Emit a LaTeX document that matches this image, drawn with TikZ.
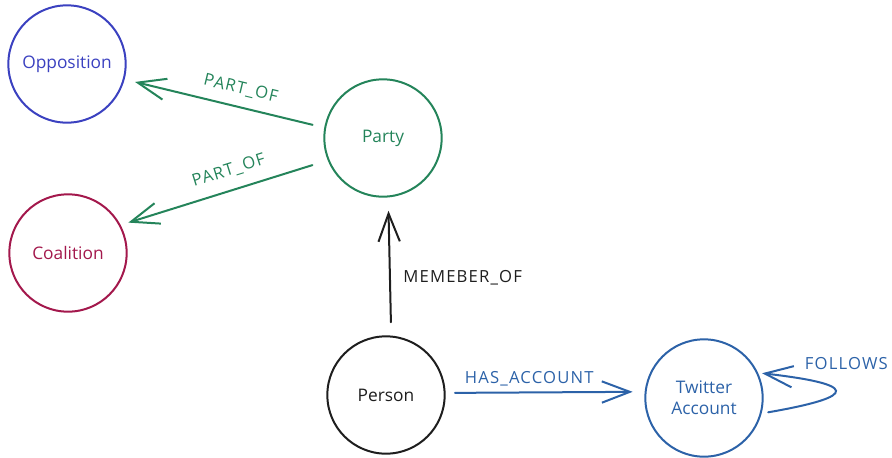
\documentclass[tikz,border=0pt]{standalone}
\usepackage{fontspec}
\setmainfont{Open Sans}
\newfontfamily\relfont[LetterSpace=7]{Open Sans}
\usetikzlibrary{arrows.meta}

\definecolor{oppblue}{HTML}{3B41C0}
\definecolor{coalred}{HTML}{A3184C}
\definecolor{partygreen}{HTML}{24845A}
\definecolor{twitblue}{HTML}{2C62A8}
\definecolor{inkblack}{HTML}{1E1E1E}

\begin{document}
\begin{tikzpicture}[x=0.75pt,y=-0.75pt,line width=1.5pt,cap=round,
    >={Straight Barb[length=21pt,width=16pt]},
    entity/.style={circle,draw,minimum size=88pt,inner sep=0pt,align=center,
        font=\fontsize{13}{16}\selectfont},
    rel/.style={->,font=\relfont\fontsize{12.5}{15}\selectfont}]
    \useasboundingbox (0,0) rectangle (892,457);

    % draw the entities
    \node[entity,oppblue] (opposition) at (67,64) {Opposition};
    \node[entity,coalred] (coalition) at (68,253) {Coalition};
    \node[entity,partygreen] (party) at (383,138) {Party};
    \node[entity,inkblack] (person) at (386,395) {Person};
    \node[entity,twitblue] (twitter) at (704,398) {Twitter\\Account};

    % party is part of opposition / coalition
    \draw[rel,<-,partygreen,shorten <=8pt,shorten >=9pt] (opposition.345) -- (party.170)
        node[pos=0.56,sloped,above=4pt] {PART\_OF};
    \draw[rel,<-,partygreen,shorten <=6pt,shorten >=12pt] (coalition.28) -- (party.202)
        node[pos=0.55,sloped,above=5pt] {PART\_OF};

    % person is member of party
    \draw[rel,inkblack,shorten <=10pt,shorten >=10pt] (person.85) -- (party.275)
        node[pos=0.42,right=6pt] {MEMEBER\_OF};

    % person has a twitter account
    \draw[rel,twitblue,shorten <=7pt,shorten >=9pt] (person.2) -- (twitter.174)
        node[pos=0.42,above=1pt] {HAS\_ACCOUNT};

    % account follows itself
    \draw[rel,twitblue,shorten <=5pt,shorten >=3pt] (twitter.345)
        .. controls (862,396) and (856,384) .. (twitter.25)
        node[pos=0.7,anchor=south,xshift=19pt,yshift=6pt] {FOLLOWS};
\end{tikzpicture}
\end{document}
